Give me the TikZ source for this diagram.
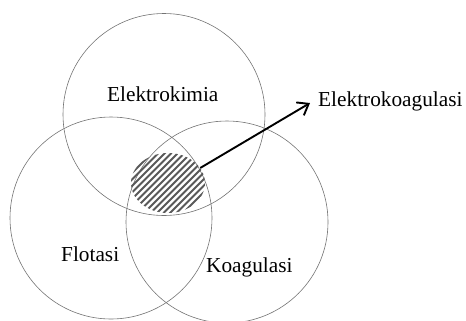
\documentclass[tikz,border=0pt]{standalone}
\usepackage{fontspec}
\setmainfont{Liberation Serif}
\usetikzlibrary{arrows.meta,shapes.geometric}
\begin{document}
\begin{tikzpicture}[x=1bp,y=-1bp,
  ring/.style={draw=black!55,line width=0.6bp},
  lbl/.style={inner sep=0pt,anchor=base west,font=\fontsize{21.3bp}{25bp}\selectfont},
  stripe/.style={draw=black!65,line width=1.9bp},
  pointer/.style={draw=black,line width=1.9bp,-{Straight Barb[length=10bp,width=15bp]}}]
\useasboundingbox (0,0) rectangle (466,320);
% the three sets
\draw[ring] (164,114.5) circle[radius=101];
\draw[ring] (111,218) circle[radius=101];
\draw[ring] (227,222) circle[radius=101];
% hatched common region
\node[ellipse,inner sep=0pt,minimum width=74bp,minimum height=60bp] (core) at (168,183) {};
\begin{scope}
  \clip (168,183) ellipse[x radius=37,y radius=30];
  \foreach \i in {-72,-65.5,...,72}
    \draw[stripe] (168+\i-40,183+40) -- (168+\i+40,183-40);
\end{scope}
% labels
\node[lbl] (ek) at (107,101) {Elektrokimia};
\node[lbl] (fl) at (61,261.5) {Flotasi};
\node[lbl] (ko) at (206,272.5) {Koagulasi};
\node[lbl] (eko) at (318,106) {Elektrokoagulasi};
\coordinate (tip) at (310,103);
\draw[pointer] (core.25) -- (tip);
\end{tikzpicture}
\end{document}
